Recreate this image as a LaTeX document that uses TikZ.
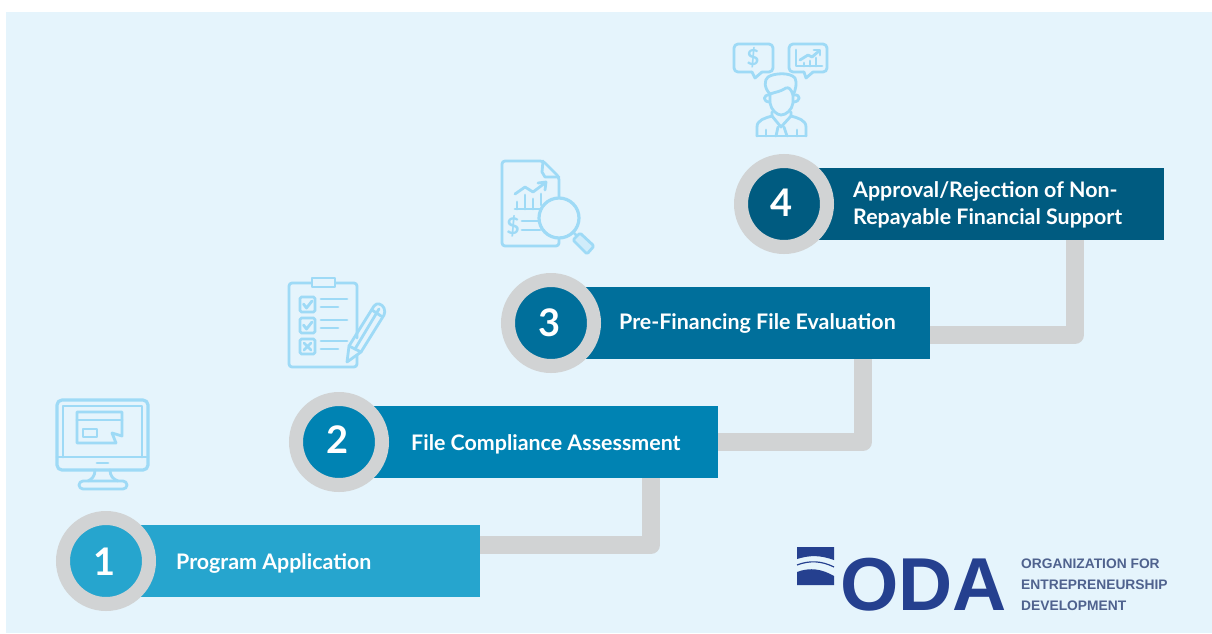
\documentclass[tikz,border=0pt]{standalone}
\usepackage{fontspec}
\setmainfont{Lato}
\newfontfamily\logofont{Liberation Sans}
\usetikzlibrary{calc}
\definecolor{panel}{HTML}{E5F4FC}
\definecolor{ringgrey}{HTML}{D1D3D4}
\definecolor{iconblue}{HTML}{9EDAF6}
\definecolor{stepa}{HTML}{26A5CE}
\definecolor{stepb}{HTML}{0083B3}
\definecolor{stepc}{HTML}{006F9B}
\definecolor{stepd}{HTML}{005B80}
\definecolor{odablue}{HTML}{25408F}
\definecolor{odagrey}{HTML}{4F628E}
\tikzset{
  stepbar/.style={rectangle,draw=none,fill=#1,minimum width=346pt,minimum height=72pt,inner sep=0pt,anchor=west},
  ring/.style={circle,draw=ringgrey,line width=14pt,fill=#1,minimum size=86pt,inner sep=0pt},
  numeral/.style={text=white,inner sep=0pt,font=\fontsize{38}{38}\selectfont\bfseries},
  steptext/.style={anchor=west,inner sep=0pt,text=white,align=left,font=\fontsize{21.4}{27}\selectfont\bfseries},
  link/.style={draw=ringgrey,line width=18pt,line join=round},
  icon/.style={draw=iconblue,line width=3.2pt,line cap=round,line join=round,fill=none},
  iconthin/.style={icon,line width=2.8pt},
  icontext/.style={inner sep=0pt,text=iconblue,font=\fontsize{#1}{#1}\selectfont\bfseries},
  odaword/.style={anchor=west,inner sep=0pt,text=odablue,font=\logofont\fontsize{75}{75}\selectfont\bfseries},
  odasmall/.style={anchor=west,inner sep=0pt,text=odagrey,font=\logofont\fontsize{13.8}{13.8}\selectfont\bfseries}
}
\begin{document}
\begin{tikzpicture}[x=1pt,y=-1pt]
\useasboundingbox (0,0) rectangle (1212,633);
\fill[white] (0,0) rectangle (1212,633);
\fill[panel] (6,12) rectangle (1212,633);

% bars
\node[stepbar=stepa,minimum width=340pt] (bar1) at (140,561) {};
\node[stepbar=stepb] (bar2) at (372,442) {};
\node[stepbar=stepc,minimum width=345pt] (bar3) at (585,323) {};
\node[stepbar=stepd] (bar4) at (818,204) {};

% connectors
\draw[link] ($(bar1.east)+(0,-16)$) -| ($(bar2.south west)+(279,0)$);
\draw[link] (bar2.east) -| ($(bar3.south west)+(278,0)$);
\draw[link] ($(bar3.east)+(0,12)$) -| ($(bar4.south west)+(257,0)$);

% number circles
\node[ring=stepa] (c1) at (106,561) {};
\node[ring=stepb] (c2) at (339,442) {};
\node[ring=stepc] (c3) at (551,323) {};
\node[ring=stepd] (c4) at (784,204) {};
\node[numeral] (n1) at (105,562) {1};
\node[numeral] (n2) at (338,440) {2};
\node[numeral] (n3) at (550,323) {3};
\node[numeral] (n4) at (782,203) {4};

% labels
\node[steptext] (t1) at (176,563) {Program Application};
\node[steptext] (t2) at (411,444) {File Compliance Assessment};
\node[steptext] (t3) at (619,323) {Pre-Financing File Evaluation};
\node[steptext] (t4) at (853,205) {Approval/Rejection of Non-\\Repayable Financial Support};

% icon 1: monitor
\draw[icon,rounded corners=5pt] (57,400) rectangle (148,470);
\draw[iconthin] (63,457) -- (63,406) -- (142,406) -- (142,457);
\draw[iconthin] (57,457) -- (148,457);
\draw[iconthin] (97,463) -- (108,463);
\draw[iconthin] (95,470) .. controls (95,476) and (92,479) .. (88,481);
\draw[iconthin] (110,470) .. controls (110,476) and (113,479) .. (118,481);
\draw[iconthin,rounded corners=4pt] (79,481) rectangle (127,489);
\draw[iconthin] (122,436) -- (122,412) -- (77,412) -- (77,443) -- (116,443) -- (112,433) -- cycle;
\draw[iconthin] (77,420) -- (122,420);
\draw[iconthin] (83,429) rectangle (97,437);

% icon 2: checklist
\draw[iconthin,rounded corners=3pt] (357,338) -- (357,283) -- (289,283) -- (289,367) -- (357,367) -- (357,355);
\draw[iconthin,fill=panel] (312,278) rectangle (335,287);
\foreach \yy in {297,318,339}{
  \draw[iconthin,rounded corners=1.5pt] (300,\yy) rectangle (315,\yy+15);
  \draw[iconthin] (321,\yy+2) -- (347,\yy+2);
  \draw[iconthin] (321,\yy+10) -- (338,\yy+10);
}
\draw[iconthin] (303.5,304) -- (306.5,308) -- (312,301);
\draw[iconthin] (303.5,325) -- (306.5,329) -- (312,322);
\draw[iconthin] (304,343) -- (311,350) (311,343) -- (304,350);
\draw[iconthin] (347,362) -- (349,346) -- (374,306) .. controls (377,302) and (382,304) .. (384,308) .. controls (385,311) and (385,313) .. (384,315) -- (361,352) -- cycle;
\draw[iconthin] (349,346) -- (361,352);
\draw[iconthin] (355,349) -- (379,309);
\draw[iconthin] (372,310) -- (381,316);

% icon 3: document and magnifier
\draw[iconthin,rounded corners=3pt] (559,197) -- (559,177) -- (543,161) -- (502,161) -- (502,246) -- (559,246) -- (559,238);
\draw[iconthin] (543,161) -- (542,172) -- (545,177) -- (559,177);
\draw[iconthin] (515,194) -- (525,187) -- (533,192) -- (545,183);
\draw[iconthin] (538,183) -- (546,182) -- (545,190);
\draw[iconthin] (515,209) -- (541,209);
\draw[iconthin] (517,202) -- (517,209) (525,195) -- (525,209) (533,199) -- (533,209) (541,194) -- (541,205);
\node[icontext=23] (dollar3) at (513,226) {\$};
\draw[iconthin] (522,221) -- (540,221) (522,230) -- (540,230);
\node[circle,draw=iconblue,line width=3.2pt,fill=panel,minimum size=40pt,inner sep=0pt] (lens) at (559,218) {};
\draw[iconthin] (lens.315) -- (577,236);
\draw[iconthin,fill=iconblue!30!panel,rounded corners=1.5pt] (573,240) -- (580,233) -- (594,246) -- (587,254) -- cycle;

% icon 4: person and speech bubbles
\draw[iconthin,rounded corners=4pt] (752,72) -- (734,72) -- (734,44) -- (773,44) -- (773,72) -- (762,72);
\draw[iconthin] (752,72) -- (755,78) -- (762,72);
\node[icontext=22] (dollar4) at (753,58) {\$};
\draw[iconthin,rounded corners=4pt] (804,72) -- (789,72) -- (789,44) -- (827,44) -- (827,72) -- (813,72);
\draw[iconthin] (804,72) -- (806,78) -- (813,72);
\draw[iconthin] (796,50) -- (796,66) -- (822,66);
\draw[iconthin] (800,60) -- (808,55) -- (812,57) -- (819,51);
\draw[iconthin] (814,50) -- (820,50) -- (820,55);
\draw[iconthin] (804,66) -- (804,63) (810,66) -- (810,61) (816,66) -- (816,58);
% hair, face, ears
\draw[iconthin] (770,94) .. controls (764,88) and (764,80) .. (768,77) .. controls (774,73) and (790,72) .. (795,78) .. controls (797,82) and (796,90) .. (793,95) .. controls (791,89) and (789,87) .. (786,88) .. controls (780,92) and (775,92) .. (770,94) -- cycle;
\draw[iconthin] (770,94) -- (770,103) .. controls (771,110) and (777,115) .. (781,115) .. controls (786,115) and (792,110) .. (793,103) -- (793,95);
\draw[iconthin] (770,95) .. controls (763,94) and (762,102) .. (770,102);
\draw[iconthin] (794,95) .. controls (801,94) and (801,102) .. (793,102);
% body
\draw[iconthin] (757,136) -- (757,127) .. controls (757,120) and (765,118) .. (772,116) -- (772,112);
\draw[iconthin] (806,136) -- (806,127) .. controls (806,120) and (798,118) .. (791,116) -- (791,112);
\draw[iconthin] (757,136) -- (806,136);
\draw[iconthin] (772,116) -- (781,127) -- (791,116);
\draw[iconthin] (778,127) -- (776,136) (784,127) -- (787,136);
\draw[iconthin] (766,130) -- (766,136) (797,130) -- (797,136);

% logo
\fill[odablue] (797,547) -- (834,547) -- (834,560) .. controls (820,555) and (810,555) .. (797,559) -- cycle;
\fill[odablue] (797,572) .. controls (810,567) and (822,569) .. (834,576) -- (834,585) -- (797,585) -- cycle;
\draw[odablue,line width=1.2pt] (797,565) .. controls (810,560) and (822,561) .. (834,567);
\node[odaword] (oda) at (840,585) {ODA};
\node[odasmall] (s1) at (1021,564) {ORGANIZATION FOR};
\node[odasmall] (s2) at (1021,585) {ENTREPRENEURSHIP};
\node[odasmall] (s3) at (1021,606) {DEVELOPMENT};
\end{tikzpicture}
\end{document}
